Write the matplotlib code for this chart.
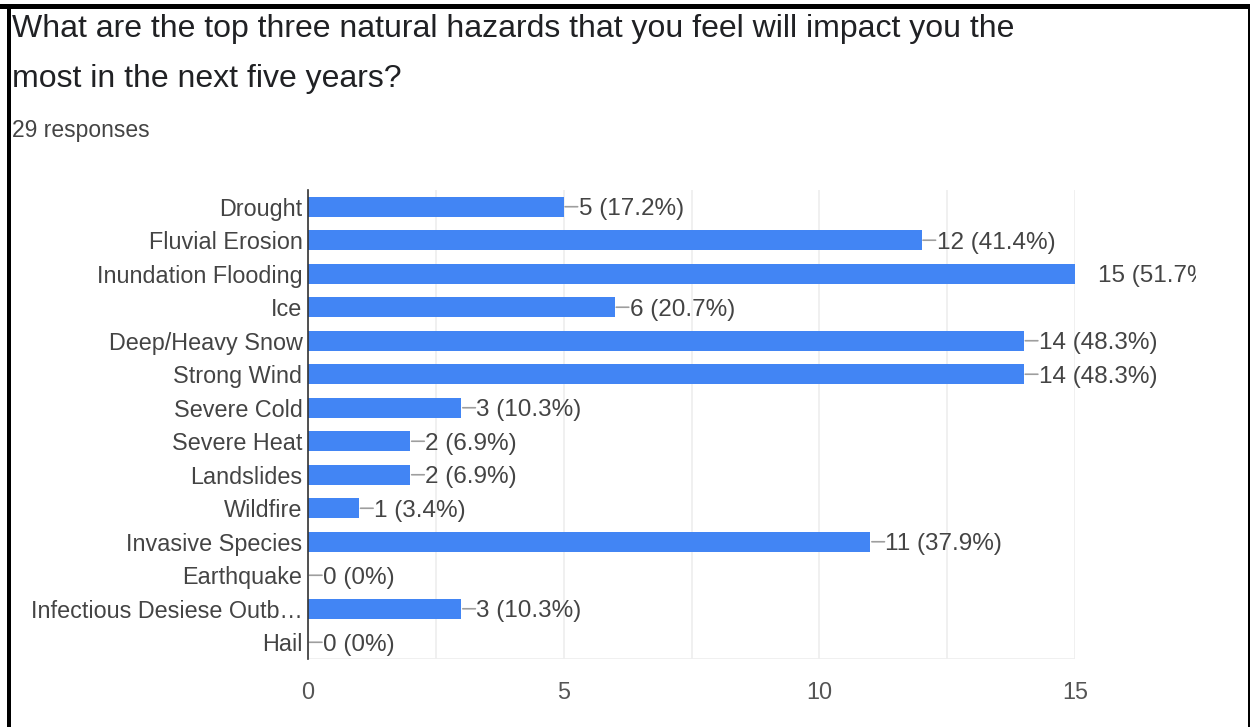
import matplotlib.pyplot as plt
from matplotlib.patches import Rectangle

plt.rcParams['font.family'] = ['Liberation Sans', 'DejaVu Sans']

hazards = ["Drought", "Fluvial Erosion", "Inundation Flooding", "Ice",
           "Deep/Heavy Snow", "Strong Wind", "Severe Cold", "Severe Heat",
           "Landslides", "Wildfire", "Invasive Species", "Earthquake",
           "Infectious Desiese Outb\u2026", "Hail"]
counts = [5, 12, 15, 6, 14, 14, 3, 2, 2, 1, 11, 0, 3, 0]
percents = ["17.2%", "41.4%", "51.7%", "20.7%", "48.3%", "48.3%", "10.3%",
            "6.9%", "6.9%", "3.4%", "37.9%", "0%", "10.3%", "0%"]
xticks = [0, 5, 10, 15]

blue = "#4285f4"
txt = "#444444"
fs = 16.8

fig = plt.figure(figsize=(12.5, 7.27), dpi=100)
ax = fig.add_axes([0.2464, 0.0935, 0.6136, 0.6452])

y = list(range(len(hazards)))
ax.barh(y, counts, height=0.6, color=blue, zorder=3)

ax.set_ylim(len(hazards) - 0.5, -0.5)
ax.set_xlim(0, 15)
ax.set_yticks(y)
ax.set_yticklabels(hazards, fontsize=fs, color=txt)
ax.set_xticks(xticks)
ax.set_xticklabels([str(t) for t in xticks], fontsize=fs, color="#555555")
ax.set_xticks([2.5, 7.5, 12.5], minor=True)
ax.tick_params(axis="both", which="both", length=0, pad=4)
ax.tick_params(axis="x", pad=16)
ax.grid(axis="x", which="both", color="#eeeeee", lw=1.2, zorder=0)

for s in ["top", "right", "bottom"]:
    ax.spines[s].set_visible(False)
ax.spines["left"].set_color("#333333")
ax.spines["left"].set_linewidth(1.2)
ax.spines["left"].set_zorder(4)
ax.axhline(len(hazards) - 0.5, color="#eeeeee", lw=1.2, zorder=0)

clip = Rectangle((0, 0), 1196 / 1250, 1, transform=fig.transFigure)
for i, (c, p) in enumerate(zip(counts, percents)):
    label = f"{c} ({p})"
    if c == max(counts):
        t = ax.annotate(label, xy=(c, i), xytext=(23, 0),
                        textcoords="offset pixels", ha="left", va="center_baseline",
                        fontsize=17.5, color=txt, annotation_clip=False)
        t.set_clip_path(clip)
        t.set_clip_on(True)
    else:
        # leader line from bar end to the label
        ax.annotate("", xy=(c, i), xytext=(14, 0), textcoords="offset pixels",
                    arrowprops=dict(arrowstyle="-", color="#9e9e9e", lw=1.2,
                                    shrinkA=0, shrinkB=1))
        ax.annotate(label, xy=(c, i), xytext=(15, 0),
                    textcoords="offset pixels", ha="left", va="center_baseline",
                    fontsize=17.5, color=txt)

fig.text(0.0096, 0.949, "What are the top three natural hazards that you feel will impact you the",
         fontsize=23, color="#202124", va="baseline")
fig.text(0.0096, 0.880, "most in the next five years?",
         fontsize=23, color="#202124", va="baseline")
fig.text(0.0096, 0.812, "29 responses", fontsize=16.5, color="#444444", va="baseline")

# screenshot frame
fig.add_artist(Rectangle((0, 1 - 9 / 727), 1, 5 / 727, transform=fig.transFigure,
                         color="black", lw=0))
fig.add_artist(Rectangle((7 / 1250, 0), 4 / 1250, 1 - 4 / 727, transform=fig.transFigure,
                         color="black", lw=0))
fig.add_artist(Rectangle((1248 / 1250, 0), 2 / 1250, 1 - 4 / 727, transform=fig.transFigure,
                         color="black", lw=0))

fig.savefig("out.png", dpi=100)
